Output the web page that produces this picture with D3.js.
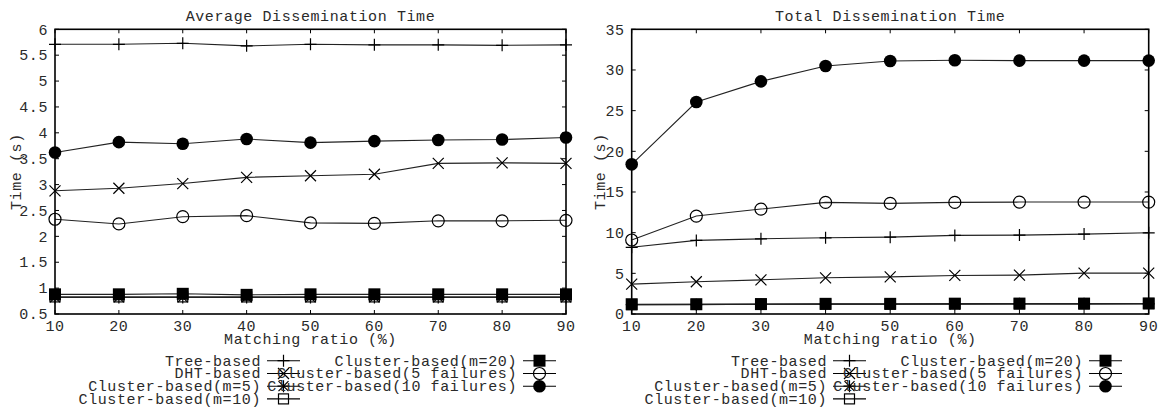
<!DOCTYPE html>
<html><head><meta charset="utf-8">
<script src="https://cdn.jsdelivr.net/npm/d3@7"></script>
<style>
body{margin:0;background:#fff;}
text{font-family:"Liberation Mono","DejaVu Sans Mono",monospace;font-size:15px;letter-spacing:0.6px;fill:#2a2a2a;}
</style></head>
<body><svg id="c" width="1166" height="411"></svg>
<script>
const matchingRatio = [10,20,30,40,50,60,70,80,90];
const seriesNames = ["Tree-based","DHT-based","Cluster-based(m=5)","Cluster-based(m=10)","Cluster-based(m=20)","Cluster-based(5 failures)","Cluster-based(10 failures)"];
const markerTypes = ["plus","cross","asterisk","openSquare","filledSquare","openCircle","filledCircle"];

// Average dissemination time (s)
const avgTree      = [5.71,5.71,5.73,5.68,5.71,5.70,5.70,5.69,5.70];
const avgDHT       = [2.88,2.93,3.02,3.14,3.17,3.20,3.41,3.42,3.41];
const avgM5        = [0.82,0.82,0.82,0.82,0.82,0.82,0.82,0.82,0.82];
const avgM10       = [0.83,0.83,0.83,0.83,0.83,0.83,0.83,0.83,0.83];
const avgM20       = [0.88,0.88,0.89,0.87,0.88,0.88,0.88,0.88,0.88];
const avgFail5     = [2.33,2.24,2.38,2.40,2.26,2.25,2.30,2.30,2.31];
const avgFail10    = [3.62,3.82,3.79,3.88,3.81,3.84,3.86,3.87,3.91];

// Total dissemination time (s)
const totTree      = [8.2,9.05,9.24,9.37,9.45,9.66,9.70,9.82,9.98];
const totDHT       = [3.67,3.96,4.20,4.45,4.57,4.74,4.78,5.02,5.02];
const totM5        = [1.15,1.15,1.2,1.2,1.2,1.2,1.25,1.25,1.25];
const totM10       = [1.15,1.18,1.2,1.22,1.22,1.25,1.25,1.25,1.28];
const totM20       = [1.2,1.2,1.22,1.25,1.25,1.27,1.28,1.28,1.3];
const totFail5     = [9.1,12.04,12.9,13.72,13.6,13.72,13.76,13.76,13.76];
const totFail10    = [18.4,26.06,28.6,30.49,31.1,31.2,31.15,31.15,31.15];

const avgTicks = [0.5,1,1.5,2,2.5,3,3.5,4,4.5,5,5.5,6];
const totTicks = [0,5,10,15,20,25,30,35];

const svg = d3.select("#c");

function marker(g, type, x, y){
  const s = 6;
  if(type==="plus"){
    g.append("path").attr("d",`M${x-s},${y}H${x+s}M${x},${y-s}V${y+s}`).attr("stroke","#000").attr("stroke-width",1.2).attr("fill","none");
  } else if(type==="cross"){
    const k=5.5;
    g.append("path").attr("d",`M${x-k},${y-k}L${x+k},${y+k}M${x-k},${y+k}L${x+k},${y-k}`).attr("stroke","#000").attr("stroke-width",1.2).attr("fill","none");
  } else if(type==="asterisk"){
    const k=5;
    g.append("path").attr("d",`M${x-s},${y}H${x+s}M${x},${y-s}V${y+s}M${x-k},${y-k}L${x+k},${y+k}M${x-k},${y+k}L${x+k},${y-k}`).attr("stroke","#000").attr("stroke-width",1.2).attr("fill","none");
  } else if(type==="openSquare"){
    g.append("rect").attr("x",x-5).attr("y",y-5).attr("width",10).attr("height",10).attr("fill","none").attr("stroke","#000").attr("stroke-width",1.2);
  } else if(type==="filledSquare"){
    g.append("rect").attr("x",x-6).attr("y",y-6).attr("width",12).attr("height",12).attr("fill","#000");
  } else if(type==="openCircle"){
    g.append("circle").attr("cx",x).attr("cy",y).attr("r",6).attr("fill","none").attr("stroke","#000").attr("stroke-width",1.2);
  } else if(type==="filledCircle"){
    g.append("circle").attr("cx",x).attr("cy",y).attr("r",6.3).attr("fill","#000");
  }
}

function drawChart(opt){
  const g = svg.append("g");
  const x = d3.scaleLinear().domain([10,90]).range([opt.x0,opt.x1]);
  const y = d3.scaleLinear().domain(opt.yDomain).range([opt.y1,opt.y0]);
  const tl = 4;
  const tickG = g.append("g").attr("stroke","#000").attr("stroke-width",1);
  opt.yTicks.forEach(v=>{
    tickG.append("line").attr("x1",opt.x0).attr("x2",opt.x0+tl).attr("y1",y(v)).attr("y2",y(v));
    tickG.append("line").attr("x1",opt.x1).attr("x2",opt.x1-tl).attr("y1",y(v)).attr("y2",y(v));
  });
  matchingRatio.forEach(v=>{
    tickG.append("line").attr("x1",x(v)).attr("x2",x(v)).attr("y1",opt.y0).attr("y2",opt.y0+tl);
    tickG.append("line").attr("x1",x(v)).attr("x2",x(v)).attr("y1",opt.y1).attr("y2",opt.y1-tl);
  });
  opt.yTicks.forEach(v=>{
    g.append("text").attr("x",opt.x0-7).attr("y",y(v)).attr("dy","0.35em").attr("text-anchor","end").text(opt.fmt(v));
  });
  matchingRatio.forEach(v=>{
    g.append("text").attr("x",x(v)).attr("y",opt.y1+12).attr("dy","0.35em").attr("text-anchor","middle").text(v);
  });
  const line = d3.line().x((d,i)=>x(matchingRatio[i])).y(d=>y(d));
  opt.series.forEach((s,si)=>{
    g.append("path").attr("d",line(s)).attr("fill","none").attr("stroke","#222").attr("stroke-width",1.1);
  });
  opt.series.forEach((s,si)=>{
    s.forEach((v,i)=>marker(g, markerTypes[si], x(matchingRatio[i]), y(v)));
  });
  g.append("rect").attr("x",opt.x0).attr("y",opt.y0).attr("width",opt.x1-opt.x0).attr("height",opt.y1-opt.y0)
    .attr("fill","none").attr("stroke","#000").attr("stroke-width",1.6);
  const cx = (opt.x0+opt.x1)/2;
  g.append("text").attr("x",cx).attr("y",16).attr("dy","0.35em").attr("text-anchor","middle").text(opt.title);
  g.append("text").attr("x",cx).attr("y",339).attr("dy","0.35em").attr("text-anchor","middle").text("Matching ratio (%)");
  g.append("text").attr("transform",`translate(${opt.yLabelX},${(opt.y0+opt.y1)/2}) rotate(-90)`).attr("dy","0.35em").attr("text-anchor","middle").text("Time (s)");
  const rows = [360.7,373.5,386.2,398.9];
  const pos = [[0,0],[0,1],[0,2],[0,3],[1,0],[1,1],[1,2]];
  seriesNames.forEach((name,i)=>{
    const col = pos[i][0], row = pos[i][1];
    const tx = opt.legendX[col];
    const ly = rows[row];
    g.append("text").attr("x",tx).attr("y",ly).attr("dy","0.32em").attr("text-anchor","end").text(name);
    g.append("line").attr("x1",tx+6).attr("x2",tx+39).attr("y1",ly).attr("y2",ly).attr("stroke","#000").attr("stroke-width",1.1);
    marker(g, markerTypes[i], tx+22.5, ly);
  });
}

drawChart({x0:55,x1:566,y0:29.3,y1:314,yDomain:[0.5,6],yTicks:avgTicks,fmt:d=>String(d),
  title:"Average Dissemination Time",yLabelX:16,legendX:[261,517],
  series:[avgTree,avgDHT,avgM5,avgM10,avgM20,avgFail5,avgFail10]});
drawChart({x0:631.7,x1:1148.7,y0:29.3,y1:314,yDomain:[0,35],yTicks:totTicks,fmt:d=>String(d),
  title:"Total Dissemination Time",yLabelX:600,legendX:[827,1083],
  series:[totTree,totDHT,totM5,totM10,totM20,totFail5,totFail10]});
</script></body></html>
